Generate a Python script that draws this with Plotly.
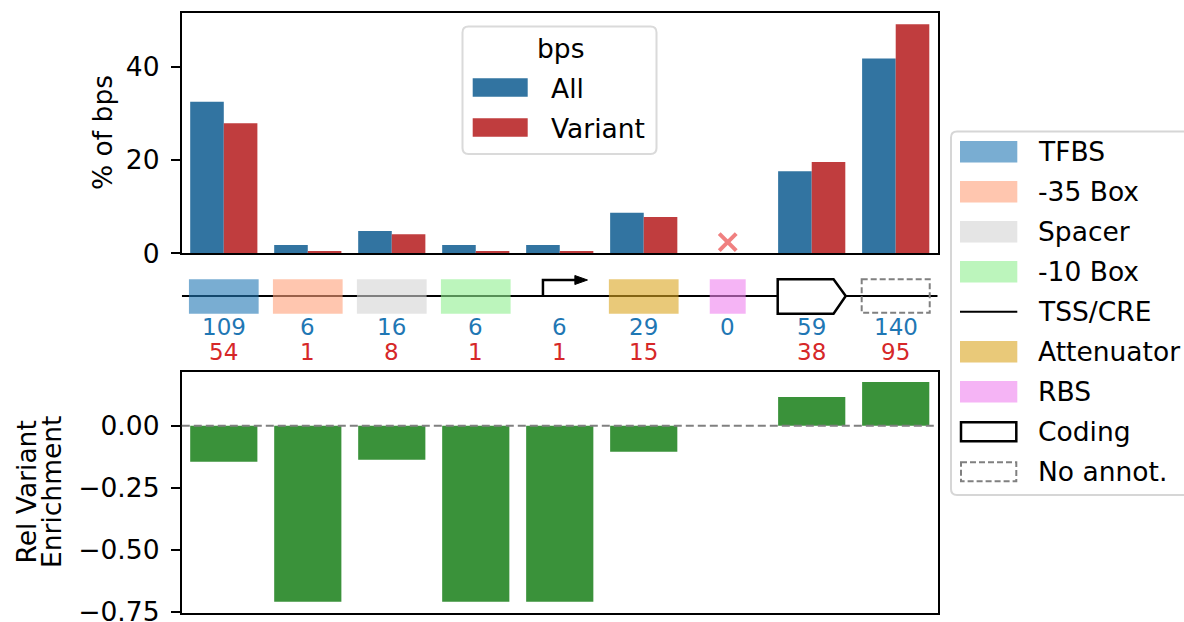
import plotly.graph_objects as go

# ---------------------------------------------------------------- data
regions = ["TFBS", "-35 Box", "Spacer", "-10 Box", "TSS/CRE",
           "Attenuator", "RBS", "Coding", "No annot."]
pct_all = [32.5, 1.8, 4.8, 1.8, 1.8, 8.7, 0.0, 17.6, 41.8]
pct_variant = [27.9, 0.5, 4.1, 0.5, 0.5, 7.8, 0.0, 19.6, 49.1]
count_all = [109, 6, 16, 6, 6, 29, 0, 59, 140]
count_variant = [54, 1, 8, 1, 1, 15, None, 38, 95]
rel_enrichment = [-0.145, -0.71, -0.137, -0.71, -0.71, -0.105, None, 0.116, 0.176]

top_ticks = [0, 20, 40]
bottom_tickvals = [0, -0.25, -0.5, -0.75]
bottom_ticktext = ["0.00", "\u22120.25", "\u22120.50", "\u22120.75"]

# ---------------------------------------------------------------- styling
W, H = 1184, 622
FONT = "DejaVu Sans"
FS = 26.5
FS_NUM = 23
C_ALL = "#3274a1"
C_VAR = "#c03d3e"
C_ENR = "#3a923a"
C_NUM_ALL = "#1f77b4"
C_NUM_VAR = "#d62728"
C_MISSING = "#f08080"
REGION_ALPHA = 0.6
region_fill = {
    "TFBS": "#1f77b4", "-35 Box": "#ffa07a", "Spacer": "#d3d3d3",
    "-10 Box": "#90ee90", "Attenuator": "#daa520", "RBS": "#ee82ee",
}
region_half_width = {"RBS": 0.214}
DEFAULT_HALF = 0.415


def fx(px):
    return px / W


def fy(py):
    return 1 - py / H


X_DOMAIN = [fx(181.8), fx(937.7)]
TOP_DOMAIN = [fy(253.3), fy(12.7)]
MID_DOMAIN = [fy(363), fy(263)]
BOT_DOMAIN = [fy(613.3), fy(371.7)]
XR = [-0.5, len(regions) - 0.5]
idx = list(range(len(regions)))

fig = go.Figure()

# ---------------------------------------------------------------- top: % of bps
fig.add_trace(go.Bar(x=idx, y=pct_all, name="All", marker=dict(color=C_ALL, line_width=0),
                     xaxis="x", yaxis="y"))
fig.add_trace(go.Bar(x=idx, y=pct_variant, name="Variant", marker=dict(color=C_VAR, line_width=0),
                     xaxis="x", yaxis="y"))
missing = [i for i, c in enumerate(count_variant) if c is None]
fig.add_trace(go.Scatter(x=missing, y=[2.4] * len(missing), mode="markers",
                         marker=dict(symbol="x-thin", size=17, color=C_MISSING,
                                     line=dict(width=4, color=C_MISSING)),
                         xaxis="x", yaxis="y", hoverinfo="skip"))

# ---------------------------------------------------------------- bottom: enrichment
fig.add_trace(go.Bar(x=idx, y=rel_enrichment, width=0.8, marker=dict(color=C_ENR, line_width=0),
                     xaxis="x3", yaxis="y3"))

shapes = []
annotations = []

# zero reference on the enrichment panel
shapes.append(dict(type="line", xref="x3 domain", yref="y3", x0=0, x1=1, y0=0, y1=0,
                   line=dict(color="#808080", width=2, dash="8px,4px"), layer="above"))

# ---------------------------------------------------------------- middle: region diagram
LINE_Y, BOX_TOP, BOX_BOT = 33, 16.3, 50.7
shapes.append(dict(type="line", xref="x2", yref="y2", x0=XR[0], x1=XR[1], y0=LINE_Y, y1=LINE_Y,
                   line=dict(color="black", width=2)))
for i, r in enumerate(regions):
    if r in region_fill:
        hw = region_half_width.get(r, DEFAULT_HALF)
        shapes.append(dict(type="rect", xref="x2", yref="y2", x0=i - hw, x1=i + hw,
                           y0=BOX_TOP, y1=BOX_BOT, fillcolor=region_fill[r],
                           opacity=REGION_ALPHA, line=dict(width=0)))
    elif r == "TSS/CRE":
        shapes.append(dict(type="path", xref="x2", yref="y2",
                           path=f"M {i-0.2},{LINE_Y} L {i-0.2},17 L {i+0.19},17",
                           line=dict(color="black", width=2.5)))
        shapes.append(dict(type="path", xref="x2", yref="y2",
                           path=f"M {i+0.18},12.5 L {i+0.33},17 L {i+0.18},21.5 Z",
                           fillcolor="black", line=dict(color="black", width=1)))
    elif r == "Coding":
        shapes.append(dict(type="path", xref="x2", yref="y2",
                           path=(f"M {i-0.405},{BOX_TOP} L {i+0.26},{BOX_TOP} L {i+0.405},{LINE_Y} "
                                 f"L {i+0.26},{BOX_BOT} L {i-0.405},{BOX_BOT} Z"),
                           fillcolor="white", line=dict(color="black", width=2.5)))
    elif r == "No annot.":
        shapes.append(dict(type="rect", xref="x2", yref="y2", x0=i - 0.405, x1=i + 0.405,
                           y0=BOX_TOP, y1=BOX_BOT - 1,
                           line=dict(color="#808080", width=2, dash="6px,3px")))

for i in idx:
    annotations.append(dict(x=i, y=63.5, xref="x2", yref="y2", text=str(count_all[i]),
                            showarrow=False, font=dict(size=FS_NUM, color=C_NUM_ALL, family=FONT)))
    if count_variant[i] is not None:
        annotations.append(dict(x=i, y=88.5, xref="x2", yref="y2", text=str(count_variant[i]),
                                showarrow=False, font=dict(size=FS_NUM, color=C_NUM_VAR, family=FONT)))

# ---------------------------------------------------------------- axis titles
annotations.append(dict(x=fx(103), y=(TOP_DOMAIN[0] + TOP_DOMAIN[1]) / 2, xref="paper", yref="paper",
                        text="% of bps", textangle=-90, showarrow=False,
                        xanchor="center", yanchor="middle", font=dict(size=FS)))
annotations.append(dict(x=fx(26), y=(BOT_DOMAIN[0] + BOT_DOMAIN[1]) / 2, xref="paper", yref="paper",
                        text="Rel Variant", textangle=-90, showarrow=False,
                        xanchor="center", yanchor="middle", font=dict(size=FS)))
annotations.append(dict(x=fx(51.5), y=(BOT_DOMAIN[0] + BOT_DOMAIN[1]) / 2, xref="paper", yref="paper",
                        text="Enrichment", textangle=-90, showarrow=False,
                        xanchor="center", yanchor="middle", font=dict(size=FS)))


# ---------------------------------------------------------------- legends
def rounded_box(x0, y0, x1, y1, r=6):
    """Rounded rectangle path in paper units from pixel corners."""
    pts = []
    pts.append(f"M {fx(x0 + r)},{fy(y0)}")
    pts.append(f"L {fx(x1 - r)},{fy(y0)}")
    pts.append(f"Q {fx(x1)},{fy(y0)} {fx(x1)},{fy(y0 + r)}")
    pts.append(f"L {fx(x1)},{fy(y1 - r)}")
    pts.append(f"Q {fx(x1)},{fy(y1)} {fx(x1 - r)},{fy(y1)}")
    pts.append(f"L {fx(x0 + r)},{fy(y1)}")
    pts.append(f"Q {fx(x0)},{fy(y1)} {fx(x0)},{fy(y1 - r)}")
    pts.append(f"L {fx(x0)},{fy(y0 + r)}")
    pts.append(f"Q {fx(x0)},{fy(y0)} {fx(x0 + r)},{fy(y0)} Z")
    return " ".join(pts)


LEG_EDGE = "#d6d6d6"

# bps legend
shapes.append(dict(type="path", xref="paper", yref="paper", path=rounded_box(462.5, 26.5, 656.5, 154),
                   fillcolor="white", opacity=0.9, line=dict(color=LEG_EDGE, width=2), layer="above"))
annotations.append(dict(x=fx(560), y=fy(49), xref="paper", yref="paper", text="bps",
                        showarrow=False, xanchor="center", yanchor="middle", font=dict(size=FS)))
for k, (lab, col) in enumerate([("All", C_ALL), ("Variant", C_VAR)]):
    cy = 87.5 + 40 * k
    shapes.append(dict(type="rect", xref="paper", yref="paper", x0=fx(472.7), x1=fx(527.7),
                       y0=fy(cy - 9.2), y1=fy(cy + 9.2), fillcolor=col, line=dict(width=0),
                       layer="above"))
    annotations.append(dict(x=fx(549), y=fy(cy + 1), xref="paper", yref="paper", text=lab,
                            showarrow=False, xanchor="left", yanchor="middle", font=dict(size=FS)))

# region legend
shapes.append(dict(type="path", xref="paper", yref="paper", path=rounded_box(951, 131.5, 1200, 495),
                   fillcolor="white", line=dict(color=LEG_EDGE, width=2), layer="above"))
for k, r in enumerate(regions):
    cy = 151.7 + 40 * k
    px0, px1 = 960, 1017.3
    if r in region_fill:
        shapes.append(dict(type="rect", xref="paper", yref="paper", x0=fx(px0), x1=fx(px1),
                           y0=fy(cy - 10.8), y1=fy(cy + 10.8), fillcolor=region_fill[r],
                           opacity=REGION_ALPHA, line=dict(width=0), layer="above"))
    elif r == "TSS/CRE":
        shapes.append(dict(type="line", xref="paper", yref="paper", x0=fx(px0), x1=fx(px1),
                           y0=fy(cy), y1=fy(cy), line=dict(color="black", width=2), layer="above"))
    elif r == "Coding":
        shapes.append(dict(type="rect", xref="paper", yref="paper", x0=fx(px0 + 1), x1=fx(px1 - 1),
                           y0=fy(cy - 9.5), y1=fy(cy + 9.5), fillcolor="white",
                           line=dict(color="black", width=2.5), layer="above"))
    elif r == "No annot.":
        shapes.append(dict(type="rect", xref="paper", yref="paper", x0=fx(px0 + 1), x1=fx(px1 - 1),
                           y0=fy(cy - 9.5), y1=fy(cy + 9.5),
                           line=dict(color="#808080", width=2, dash="6px,3px"), layer="above"))
    annotations.append(dict(x=fx(1036), y=fy(cy), xref="paper", yref="paper", text=r,
                            showarrow=False, xanchor="left", yanchor="middle", font=dict(size=FS)))

# ---------------------------------------------------------------- axes & layout
frame = dict(showline=True, mirror=True, linecolor="black", linewidth=2,
             showgrid=False, zeroline=False)
ytick = dict(ticks="outside", ticklen=9, tickwidth=2, tickcolor="black",
             tickfont=dict(size=FS, family=FONT, color="black"), ticklabelstandoff=6,
             ticklabeloverflow="allow")

fig.update_layout(
    width=W, height=H,
    margin=dict(l=0, r=0, t=0, b=0),
    paper_bgcolor="white", plot_bgcolor="white",
    font=dict(family=FONT, size=FS, color="black"),
    showlegend=False,
    barmode="group", bargap=0.2, bargroupgap=0,
    xaxis=dict(domain=X_DOMAIN, range=XR, anchor="y", showticklabels=False, ticks="", **frame),
    yaxis=dict(domain=TOP_DOMAIN, range=[0, 51.6], anchor="x", tickvals=top_ticks,
               automargin=False, **frame, **ytick),
    xaxis2=dict(domain=X_DOMAIN, range=XR, anchor="y2", visible=False),
    yaxis2=dict(domain=MID_DOMAIN, range=[100, 0], anchor="x2", visible=False),
    xaxis3=dict(domain=X_DOMAIN, range=XR, anchor="y3", showticklabels=False, ticks="", **frame),
    yaxis3=dict(domain=BOT_DOMAIN, range=[-0.7565, 0.218], anchor="x3",
                tickvals=bottom_tickvals, ticktext=bottom_ticktext, automargin=False,
                **frame, **ytick),
    shapes=shapes,
    annotations=annotations,
)

fig.write_html("out.html")
